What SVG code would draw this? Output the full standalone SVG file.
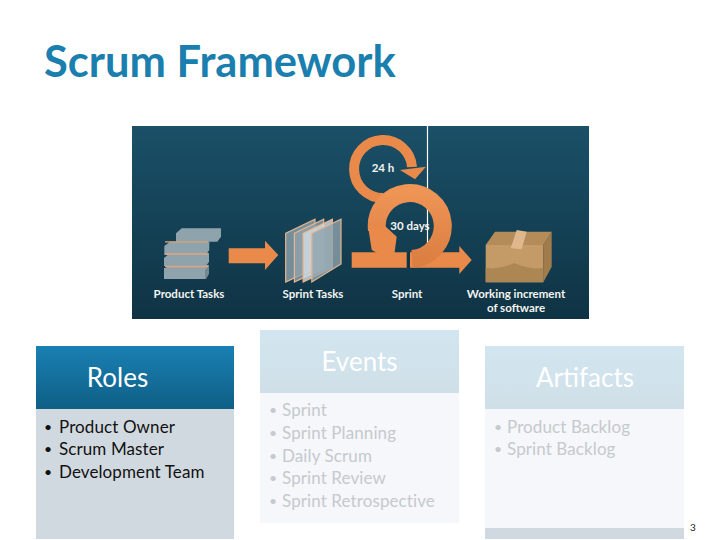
<svg xmlns="http://www.w3.org/2000/svg" width="720" height="540" viewBox="0 0 720 540">
<style>
text{font-family:"Lato","Open Sans","Liberation Sans",sans-serif}
.title{font-size:43.500px;font-weight:700;fill:#1a7fae}
.cap{font-size:11.500px;font-weight:700;fill:#f4f4f0;text-anchor:middle}
.head{font-size:26px;fill:#fff;text-anchor:middle}
.item{font-size:17px;fill:#111;letter-spacing:.1px}
.dot{font-size:14px;fill:#111}
.dim{fill:#c6c9cd}
.sheet{fill:#8fa3ad;fill-opacity:.8;stroke:#e8b58e;stroke-width:1.200}
.slab{fill:#8fa3ad}
.slabd{fill:#75878f}
.or{fill:#e98a4a}
.ring{fill:none;stroke:url(#ringG);stroke-width:18}
</style>
<defs>
<linearGradient id="bg" x1="0" y1="0" x2="0" y2="1"><stop offset="0" stop-color="#1a5068"/><stop offset="1" stop-color="#0f3344"/></linearGradient>
<linearGradient id="hA" x1="0" y1="0" x2="0" y2="1"><stop offset="0" stop-color="#1a80b3"/><stop offset="1" stop-color="#0e5f85"/></linearGradient>
<linearGradient id="hB" x1="0" y1="0" x2="0" y2="1"><stop offset="0" stop-color="#d2e6f1"/><stop offset="1" stop-color="#cfdfe7"/></linearGradient>
<linearGradient id="ringG" x1="0" y1="0" x2="0" y2="1"><stop offset="0" stop-color="#ee9455"/><stop offset="1" stop-color="#dc7f42"/></linearGradient>
</defs>
<rect width="720" height="540" fill="#fff"/>
<text class="title" x="44" y="77">Scrum Framework</text>
<g id="picture">
<rect x="132" y="126" width="457" height="193" fill="url(#bg)"/>
<g id="product-tasks">
<path class="slabd" d="M176 265H209L209 274 206 279H164V270Z"/>
<path class="slab" d="M170 265H209L206 269H164Z"/>
<rect class="slab" x="164" y="268" width="41" height="11"/>
<path class="slab" d="M170 253H209V262L206 266H164V258Z"/>
<path class="slab" d="M170 241.700H209.300V250L206 255H164.300V246Z"/>
<path class="slab" d="M181.700 228.300H221V236.700L217.300 241.700H176V233.300Z"/>
<path d="M165 241.800H208M165 254H208M165 266.500H208" stroke="#e2a57a" stroke-width="1.300"/>
</g>
<path class="or" d="M228.700 248.300H265V240.700L278.300 255 265 270V263.300H228.700Z"/>
<g id="sprint-tasks">
<path class="sheet" d="M285.700 233.300L315 219.300V268L285.700 282Z"/>
<path class="sheet" d="M294.400 233.300L323.700 219.300V268L294.400 282Z"/>
<path class="sheet" style="fill:#d5dde2" d="M303.100 233.300L332.400 219.300V268L303.100 282Z"/>
<path class="sheet" d="M311.800 233.300L341 219.300V264L311.800 282Z"/>
</g>
<path d="M427.500 126V247" stroke="#fff" stroke-width="1.200"/>
<g id="loops">
<path d="M412 167A29 29 0 1 0 383 198" fill="none" stroke="#e98a4a" stroke-width="10"/>
<path class="or" d="M400 170L426 166.700 415 179.300Z"/>
<path class="or" d="M351.700 252.300H406.700V267.700H351.700Z"/>
<path class="or" d="M410 252.300H459.300V246L471.700 260 459.300 274V267.700H410Z"/>
<path class="ring" d="M412 259A33 33 0 1 0 377 230"/>
<path class="or" d="M368 226H385L396.700 236.700 393.300 262 371.700 250Z"/>
<path d="M408.300 252V268" stroke="#0f3344" stroke-width="2"/>
</g>
<g id="box">
<path fill="#c49a66" d="M485.700 245H543.300V282.300H485.700Z"/>
<path fill="#a17b4b" d="M543.300 245L551.700 231.700V266.700L543.300 282.300Z"/>
<path fill="#b48c59" d="M485.700 245L495 231.700H551.700L543.300 245Z"/>
<path fill="#ac8753" d="M485.700 268Q500 270 514 263 530 270 543.300 268V282.300H485.700Z"/>
<path fill="#deb88c" d="M516.700 230L526.700 231.700 521.700 249.300 510.700 248.300Z"/>
</g>
<text class="cap" x="189" y="298">Product Tasks</text>
<text class="cap" x="313" y="298">Sprint Tasks</text>
<text class="cap" x="407" y="298">Sprint</text>
<text class="cap" x="516" y="298">Working increment</text>
<text class="cap" x="516" y="312">of software</text>
<text class="cap" x="383" y="172">24 h</text>
<text class="cap" x="410" y="230">30 days</text>
</g>
<g id="roles">
<rect x="36" y="409" width="198" height="130" fill="#d1d9e0"/>
<rect x="36" y="346" width="198" height="63" fill="url(#hA)"/>
<text class="head" x="117.500" y="387">Roles</text>
<text class="dot" x="44" y="432">•</text><text class="item" x="59" y="433">Product Owner</text>
<text class="dot" x="44" y="454">•</text><text class="item" x="59" y="455">Scrum Master</text>
<text class="dot" x="44" y="477">•</text><text class="item" x="59" y="478">Development Team</text>
</g>
<g id="events">
<rect x="260" y="393" width="199" height="130" fill="#f5f7fa"/>
<rect x="260" y="330" width="199" height="63" fill="url(#hB)"/>
<text class="head" x="359.500" y="371">Events</text>
<text class="dot dim" x="269" y="415">•</text><text class="item dim" x="282" y="416">Sprint</text>
<text class="dot dim" x="269" y="438">•</text><text class="item dim" x="282" y="439">Sprint Planning</text>
<text class="dot dim" x="269" y="461">•</text><text class="item dim" x="282" y="462">Daily Scrum</text>
<text class="dot dim" x="269" y="483">•</text><text class="item dim" x="282" y="484">Sprint Review</text>
<text class="dot dim" x="269" y="506">•</text><text class="item dim" x="282" y="507">Sprint Retrospective</text>
</g>
<g id="artifacts">
<rect x="485" y="409" width="199" height="119" fill="#f5f7fa"/>
<rect x="485" y="528" width="199" height="11" fill="#d1d9e0"/>
<rect x="485" y="346" width="199" height="63" fill="url(#hB)"/>
<text class="head" x="585" y="387">Artifacts</text>
<text class="dot dim" x="494" y="432">•</text><text class="item dim" x="507" y="433">Product Backlog</text>
<text class="dot dim" x="494" y="454">•</text><text class="item dim" x="507" y="455">Sprint Backlog</text>
</g>
<text x="690" y="531" font-size="10" fill="#222">3</text>
</svg>
